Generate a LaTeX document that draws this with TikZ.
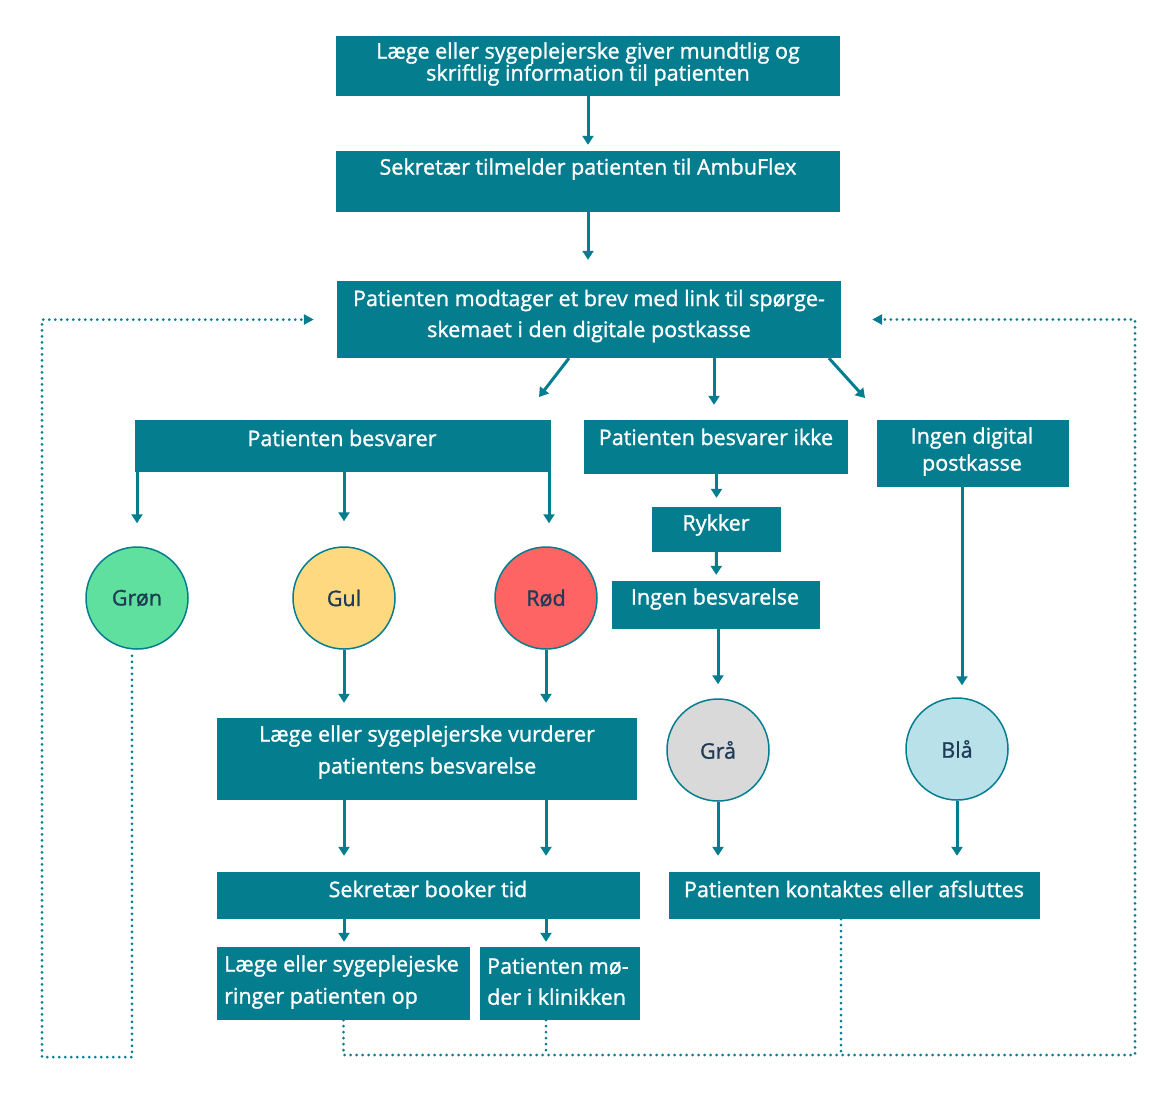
\documentclass[tikz,border=0pt]{standalone}
\usepackage{fontspec}
\setmainfont{Open Sans}[FakeBold=1.2]
\usetikzlibrary{arrows.meta,positioning}
\definecolor{boxteal}{HTML}{047D8F}
\definecolor{gronfill}{HTML}{5FE09E}
\definecolor{gulfill}{HTML}{FFD980}
\definecolor{rodfill}{HTML}{FF6464}
\definecolor{graafill}{HTML}{D9D9D9}
\definecolor{blaafill}{HTML}{B8E1E9}
\definecolor{circtext}{HTML}{1F3B57}

\begin{document}
\begin{tikzpicture}[
    x=1pt, y=-1pt,
    box/.style={rectangle, fill=boxteal, inner sep=0pt},
    boxtext/.style={text=white, font=\fontsize{21.5}{22}\selectfont, align=center, inner sep=0pt},
    state/.style={circle, draw=boxteal, line width=1.5pt, minimum size=102pt, inner sep=0pt, text=circtext, font=\fontsize{21.5}{22}\selectfont},
    arrow/.style={-{Triangle[length=9pt,width=11pt]}, line width=3pt, draw=boxteal},
    dotline/.style={-{Triangle[length=10pt,width=10pt]}, line width=3pt, draw=boxteal, line cap=round, dash pattern=on 0pt off 6pt}
]
\useasboundingbox (0,0) rectangle (1172,1096);

% Top chain
\node[box, minimum width=504pt, minimum height=60pt] (info) at (588,66) {};
\node[boxtext] (infoT) at (588,64) {Læge eller sygeplejerske giver mundtlig og\\skriftlig information til patienten};
\node[box, minimum width=504pt, minimum height=61pt] (reg) at (588,181.5) {};
\node[boxtext] (regT) at (588,169) {Sekretær tilmelder patienten til AmbuFlex};
\node[box, minimum width=504pt, minimum height=77pt] (modt) at (589,319.5) {};
\node[boxtext, font=\fontsize{21.5}{31}\selectfont] (modtT) at (589,316) {Patienten modtager et brev med link til spørge-\\skemaet i den digitale postkasse};

% Branches
\node[box, minimum width=416pt, minimum height=52pt] (bes) at (343,446) {};
\node[boxtext] (besT) at (342,438) {Patienten besvarer};
\node[box, minimum width=264pt, minimum height=54pt] (ikke) at (716,447) {};
\node[boxtext] (ikkeT) at (716,437) {Patienten besvarer ikke};
\node[box, minimum width=192pt, minimum height=67pt] (ingendig) at (973,453.5) {};
\node[boxtext, font=\fontsize{21.5}{27}\selectfont] (ingendigT) at (972,451.5) {Ingen digital\\postkasse};
\node[box, minimum width=129pt, minimum height=45pt] (rykker) at (716.5,529.5) {};
\node[boxtext] (rykkerT) at (716,525) {Rykker};
\node[box, minimum width=208pt, minimum height=48pt] (ingenbes) at (716,605) {};
\node[boxtext] (ingenbesT) at (715,599) {Ingen besvarelse};

% Colours
\node[state, fill=gronfill] (gron) at (137,598) {Grøn};
\node[state, fill=gulfill] (gul) at (344,598) {Gul};
\node[state, fill=rodfill] (rod) at (546,598) {Rød};
\node[state, fill=graafill] (graa) at (718,750) {Grå};
\node[state, fill=blaafill] (blaa) at (957,749) {Blå};

% Follow-up
\node[box, minimum width=420pt, minimum height=82pt] (vurd) at (427,759) {};
\node[boxtext, font=\fontsize{21.5}{32}\selectfont] (vurdT) at (427,752) {Læge eller sygeplejerske vurderer\\patientens besvarelse};
\node[box, minimum width=423pt, minimum height=47pt] (booker) at (428.5,895.5) {};
\node[boxtext] (bookerT) at (428,889) {Sekretær booker tid};
\node[box, minimum width=371pt, minimum height=47pt] (kont) at (854.5,895.5) {};
\node[boxtext] (kontT) at (854,889) {Patienten kontaktes eller afsluttes};
\node[box, minimum width=253pt, minimum height=73pt] (ring) at (343.5,983.5) {};
\node[boxtext, align=left, anchor=west, font=\fontsize{21.5}{32}\selectfont] (ringT) at (224,982) {Læge eller sygeplejeske\\ringer patienten op};
\node[box, minimum width=160pt, minimum height=73pt] (moede) at (560,983.5) {};
\node[boxtext, align=left, anchor=west, font=\fontsize{21.5}{31}\selectfont] (moedeT) at (487,981.5) {Patienten mø-\\der i klinikken};

% Arrows
\coordinate (dl) at (539,397);
\coordinate (dr) at (865,398);
\draw[arrow, shorten >=6pt] (info.south) -- (info.south |- reg.north);
\draw[arrow, shorten >=21pt] (reg.south) -- (reg.south |- modt.north);
\draw[arrow] ([xshift=-20pt]modt.south) -- (dl);
\draw[arrow, shorten >=15pt] ([xshift=125pt]modt.south) -- ([xshift=125pt]modt.south |- ikke.north);
\draw[arrow] ([xshift=240pt]modt.south) -- (dr);
\draw[arrow, shorten >=23pt] (bes.south -| gron) -- (gron);
\draw[arrow, shorten >=25pt] (bes.south -| gul) -- (gul);
\draw[arrow, shorten >=23pt] ([xshift=3pt]bes.south -| rod) -- ([xshift=3pt]rod.north);
\draw[arrow, shorten >=9pt] (ikke.south -| rykker) -- (rykker);
\draw[arrow, shorten >=6pt] (rykker) -- (ingenbes);
\draw[arrow, shorten >=14pt] (ingenbes.south -| graa) -- (graa);
\draw[arrow, shorten >=12pt] ([xshift=-11pt]ingendig.south) -- ([xshift=-11pt]ingendig.south |- blaa.north);
\draw[arrow, shorten >=15pt] (gul) -- (gul |- vurd.north);
\draw[arrow, shorten >=15pt] (rod) -- (rod |- vurd.north);
\draw[arrow, shorten >=16pt] (vurd.south -| gul) -- (gul |- booker.north);
\draw[arrow, shorten >=16pt] (vurd.south -| rod) -- (rod |- booker.north);
\draw[arrow, shorten >=16pt] (graa) -- (graa |- kont.north);
\draw[arrow, shorten >=16pt] (blaa) -- (blaa |- kont.north);
\draw[arrow, shorten >=5pt] (booker.south -| gul) -- (gul |- ring.north);
\draw[arrow, shorten >=5pt] (booker.south -| rod) -- (rod |- moede.north);

% Loops back
\coordinate (loopL) at (42,1057);
\coordinate (loopR) at (1135,1055);
\draw[dotline, shorten >=23pt] ([shift={(-5pt,-6pt)}]gron.south) |- (loopL) |- (modt.west);
\draw[dotline, shorten >=31pt] (ring.south) |- (loopR) |- (modt.east);
\draw[dotline, -] (moede.south -| rod) -- (rod |- loopR);
\draw[dotline, -] ([xshift=-13.5pt]kont.south) -- ([xshift=-13.5pt]kont.south |- loopR);

\end{tikzpicture}
\end{document}
